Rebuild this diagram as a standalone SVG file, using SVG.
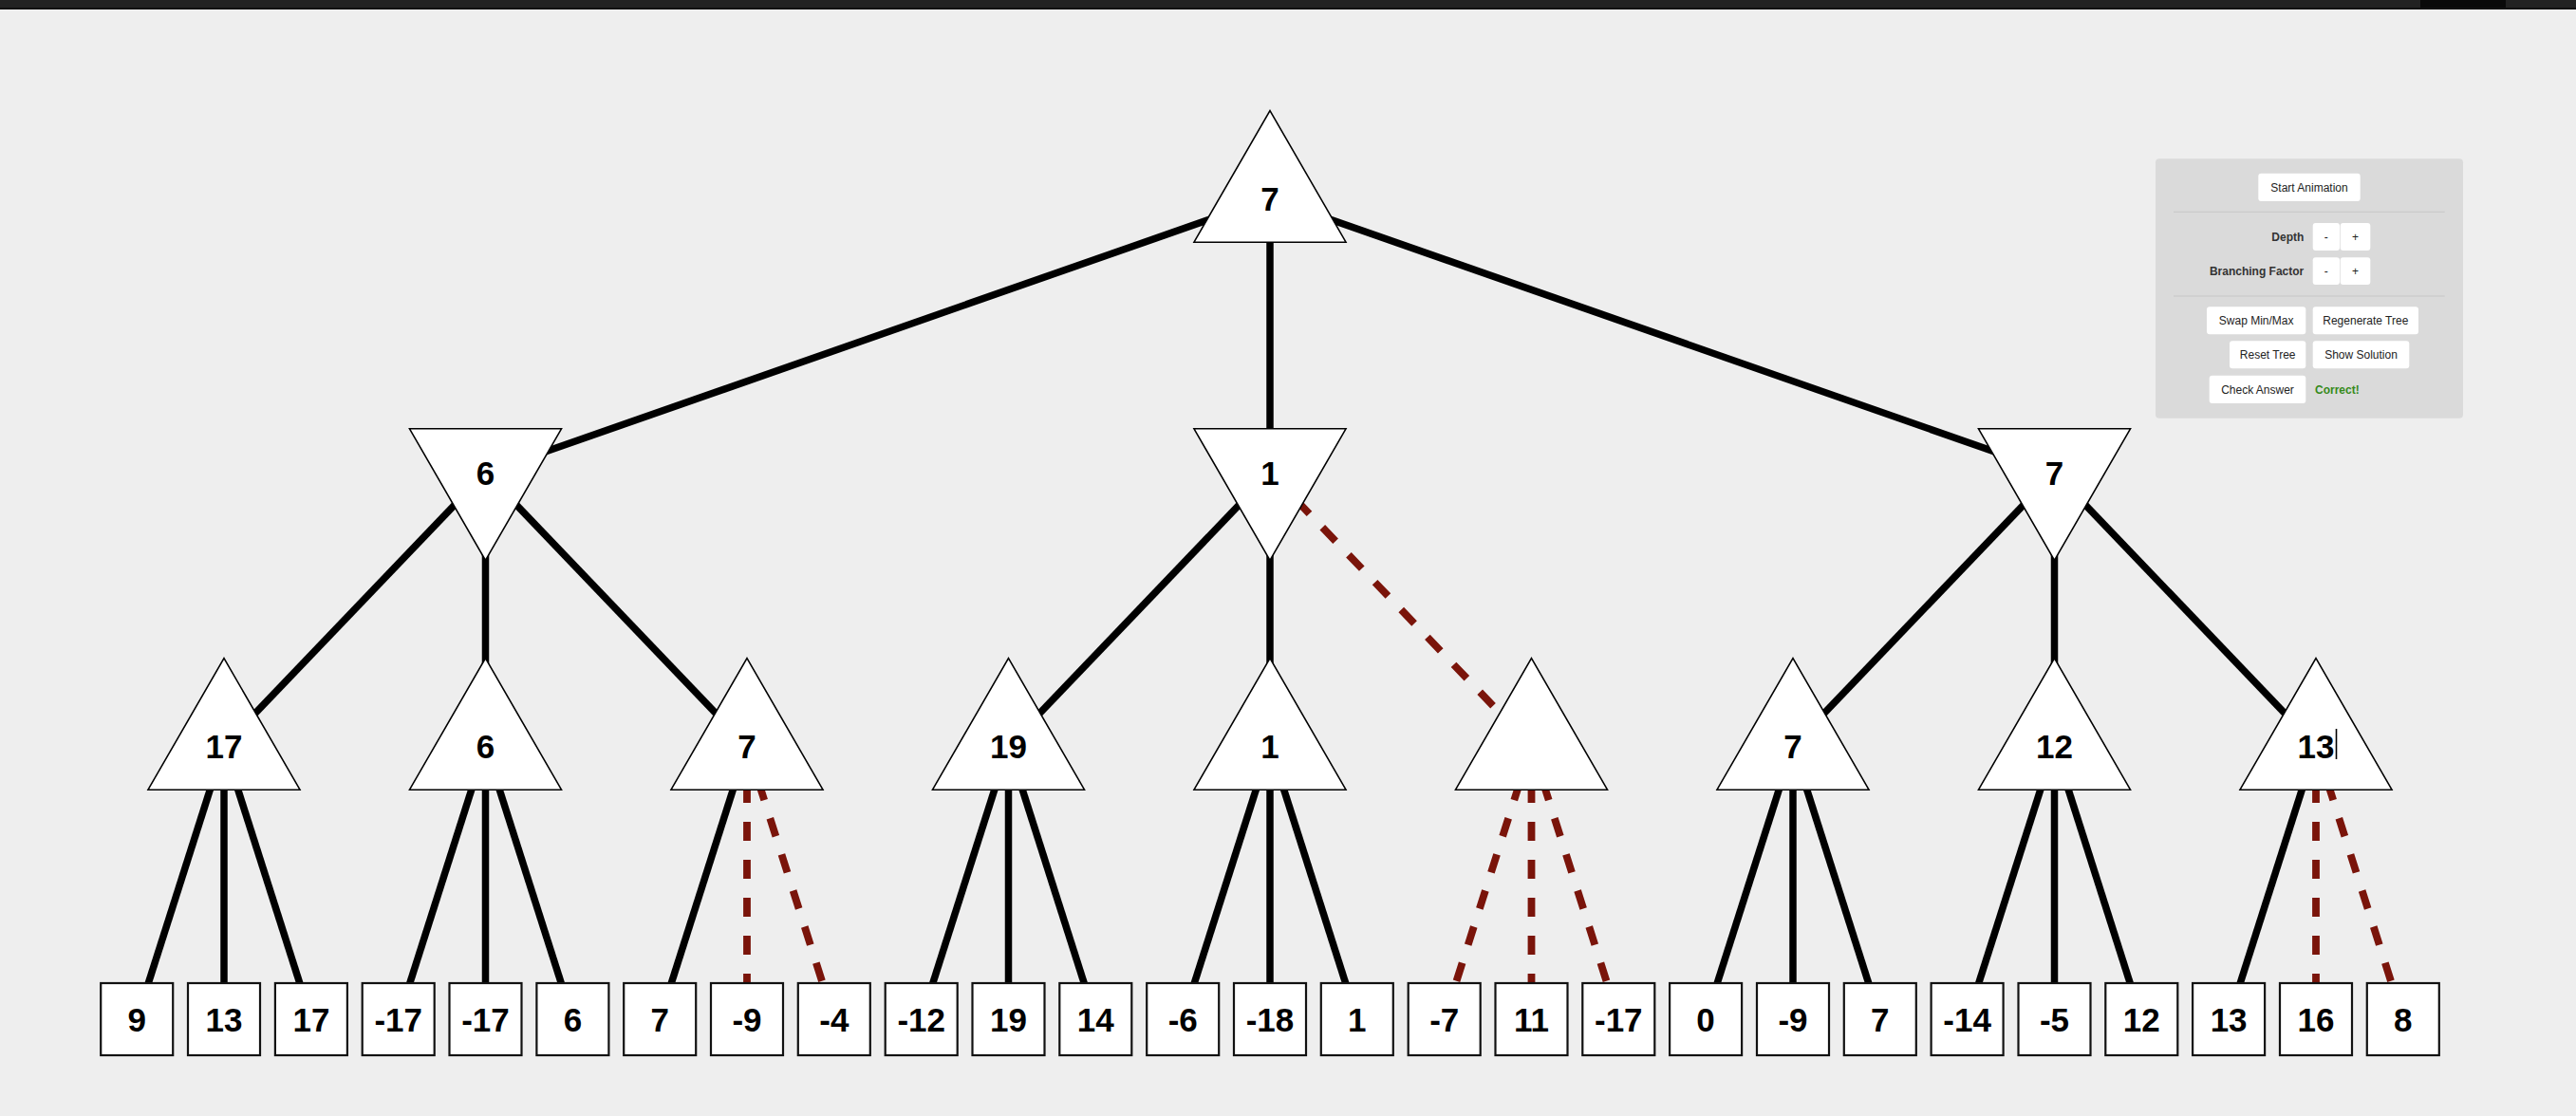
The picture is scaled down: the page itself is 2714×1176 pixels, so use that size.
<svg xmlns="http://www.w3.org/2000/svg" width="2714" height="1176" viewBox="0 0 2714 1176">
<style>
.e{stroke:#000;stroke-width:7.5;fill:none}
.d{stroke:#7a140a;stroke-width:7.8;fill:none;stroke-dasharray:20 20}
.tri{fill:#fff;stroke:#000;stroke-width:1.6}
.leaf{fill:#fff;stroke:#111;stroke-width:2.2}
.v{font-family:"Liberation Sans",Arial,Helvetica,sans-serif;font-weight:bold;font-size:35px;text-anchor:middle;fill:#000}
.btn{fill:#fff}
.bt{font-family:"Liberation Sans",Arial,Helvetica,sans-serif;font-size:12px;text-anchor:middle;fill:#222}
.lbl{font-family:"Liberation Sans",Arial,Helvetica,sans-serif;font-size:12px;font-weight:bold;text-anchor:end;fill:#333}
</style>
<defs>
<path id="up" class="tri" d="M0,-92.38 L80,46.19 L-80,46.19 Z"/>
<path id="down" class="tri" d="M0,92.38 L80,-46.19 L-80,-46.19 Z"/>
<rect id="box" class="leaf" x="-38" y="-38" width="76" height="76"/>
</defs>
<rect x="0" y="0" width="2714" height="1176" fill="#eeeeee"/>
<rect x="0" y="0" width="2714" height="8" fill="#222"/>
<rect x="0" y="8" width="2714" height="2" fill="#111"/>
<rect x="2550" y="0" width="90" height="8" fill="#0a0a0a"/>

<g id="connectors">
<line class="e" x1="1338" y1="209" x2="511.5" y2="498"/>
<line class="e" x1="1338" y1="209" x2="1338" y2="498"/>
<line class="e" x1="1338" y1="209" x2="2164.5" y2="498"/>
<line class="e" x1="511.5" y1="498" x2="236" y2="786"/>
<line class="e" x1="511.5" y1="498" x2="511.5" y2="786"/>
<line class="e" x1="511.5" y1="498" x2="787" y2="786"/>
<line class="e" x1="1338" y1="498" x2="1062.5" y2="786"/>
<line class="e" x1="1338" y1="498" x2="1338" y2="786"/>
<line class="d" x1="1338" y1="498" x2="1613.5" y2="786"/>
<line class="e" x1="2164.5" y1="498" x2="1889" y2="786"/>
<line class="e" x1="2164.5" y1="498" x2="2164.5" y2="786"/>
<line class="e" x1="2164.5" y1="498" x2="2440" y2="786"/>
<line class="e" x1="236" y1="786" x2="144.2" y2="1074"/>
<line class="e" x1="236" y1="786" x2="236" y2="1074"/>
<line class="e" x1="236" y1="786" x2="327.9" y2="1074"/>
<line class="e" x1="511.5" y1="786" x2="419.7" y2="1074"/>
<line class="e" x1="511.5" y1="786" x2="511.5" y2="1074"/>
<line class="e" x1="511.5" y1="786" x2="603.4" y2="1074"/>
<line class="e" x1="787" y1="786" x2="695.2" y2="1074"/>
<line class="d" x1="787" y1="786" x2="787" y2="1074"/>
<line class="d" x1="787" y1="786" x2="878.8" y2="1074"/>
<line class="e" x1="1062.5" y1="786" x2="970.7" y2="1074"/>
<line class="e" x1="1062.5" y1="786" x2="1062.5" y2="1074"/>
<line class="e" x1="1062.5" y1="786" x2="1154.3" y2="1074"/>
<line class="e" x1="1338" y1="786" x2="1246.2" y2="1074"/>
<line class="e" x1="1338" y1="786" x2="1338" y2="1074"/>
<line class="e" x1="1338" y1="786" x2="1429.8" y2="1074"/>
<line class="d" x1="1613.5" y1="786" x2="1521.7" y2="1074"/>
<line class="d" x1="1613.5" y1="786" x2="1613.5" y2="1074"/>
<line class="d" x1="1613.5" y1="786" x2="1705.3" y2="1074"/>
<line class="e" x1="1889" y1="786" x2="1797.1" y2="1074"/>
<line class="e" x1="1889" y1="786" x2="1889" y2="1074"/>
<line class="e" x1="1889" y1="786" x2="1980.8" y2="1074"/>
<line class="e" x1="2164.5" y1="786" x2="2072.6" y2="1074"/>
<line class="e" x1="2164.5" y1="786" x2="2164.5" y2="1074"/>
<line class="e" x1="2164.5" y1="786" x2="2256.3" y2="1074"/>
<line class="e" x1="2440" y1="786" x2="2348.1" y2="1074"/>
<line class="d" x1="2440" y1="786" x2="2440" y2="1074"/>
<line class="d" x1="2440" y1="786" x2="2531.8" y2="1074"/>
</g>

<g id="root"><use href="#up" x="1338" y="209"/><text class="v" x="1338" y="221.5">7</text></g>

<g id="n1a"><use href="#down" x="511.5" y="498"/><text class="v" x="511.5" y="510.5">6</text></g>
<g id="n1b"><use href="#down" x="1338" y="498"/><text class="v" x="1338" y="510.5">1</text></g>
<g id="n1c"><use href="#down" x="2164.5" y="498"/><text class="v" x="2164.5" y="510.5">7</text></g>

<g id="n2a"><use href="#up" x="236" y="786"/><text class="v" x="236" y="798.5">17</text></g>
<g id="n2b"><use href="#up" x="511.5" y="786"/><text class="v" x="511.5" y="798.5">6</text></g>
<g id="n2c"><use href="#up" x="787" y="786"/><text class="v" x="787" y="798.5">7</text></g>
<g id="n2d"><use href="#up" x="1062.5" y="786"/><text class="v" x="1062.5" y="798.5">19</text></g>
<g id="n2e"><use href="#up" x="1338" y="786"/><text class="v" x="1338" y="798.5">1</text></g>
<g id="n2f"><use href="#up" x="1613.5" y="786"/></g>
<g id="n2g"><use href="#up" x="1889" y="786"/><text class="v" x="1889" y="798.5">7</text></g>
<g id="n2h"><use href="#up" x="2164.5" y="786"/><text class="v" x="2164.5" y="798.5">12</text></g>
<g id="n2i"><use href="#up" x="2440" y="786"/><text class="v" x="2440" y="798.5">13</text><line x1="2461.5" y1="768" x2="2461.5" y2="800" stroke="#000" stroke-width="1.6"/></g>

<g id="leaf0"><use href="#box" x="144.2" y="1074"/><text class="v" x="144.2" y="1086.5">9</text></g>
<g id="leaf1"><use href="#box" x="236" y="1074"/><text class="v" x="236" y="1086.5">13</text></g>
<g id="leaf2"><use href="#box" x="327.9" y="1074"/><text class="v" x="327.9" y="1086.5">17</text></g>
<g id="leaf3"><use href="#box" x="419.7" y="1074"/><text class="v" x="419.7" y="1086.5">-17</text></g>
<g id="leaf4"><use href="#box" x="511.5" y="1074"/><text class="v" x="511.5" y="1086.5">-17</text></g>
<g id="leaf5"><use href="#box" x="603.4" y="1074"/><text class="v" x="603.4" y="1086.5">6</text></g>
<g id="leaf6"><use href="#box" x="695.2" y="1074"/><text class="v" x="695.2" y="1086.5">7</text></g>
<g id="leaf7"><use href="#box" x="787" y="1074"/><text class="v" x="787" y="1086.5">-9</text></g>
<g id="leaf8"><use href="#box" x="878.8" y="1074"/><text class="v" x="878.8" y="1086.5">-4</text></g>
<g id="leaf9"><use href="#box" x="970.7" y="1074"/><text class="v" x="970.7" y="1086.5">-12</text></g>
<g id="leaf10"><use href="#box" x="1062.5" y="1074"/><text class="v" x="1062.5" y="1086.5">19</text></g>
<g id="leaf11"><use href="#box" x="1154.3" y="1074"/><text class="v" x="1154.3" y="1086.5">14</text></g>
<g id="leaf12"><use href="#box" x="1246.2" y="1074"/><text class="v" x="1246.2" y="1086.5">-6</text></g>
<g id="leaf13"><use href="#box" x="1338" y="1074"/><text class="v" x="1338" y="1086.5">-18</text></g>
<g id="leaf14"><use href="#box" x="1429.8" y="1074"/><text class="v" x="1429.8" y="1086.5">1</text></g>
<g id="leaf15"><use href="#box" x="1521.7" y="1074"/><text class="v" x="1521.7" y="1086.5">-7</text></g>
<g id="leaf16"><use href="#box" x="1613.5" y="1074"/><text class="v" x="1613.5" y="1086.5">11</text></g>
<g id="leaf17"><use href="#box" x="1705.3" y="1074"/><text class="v" x="1705.3" y="1086.5">-17</text></g>
<g id="leaf18"><use href="#box" x="1797.1" y="1074"/><text class="v" x="1797.1" y="1086.5">0</text></g>
<g id="leaf19"><use href="#box" x="1889" y="1074"/><text class="v" x="1889" y="1086.5">-9</text></g>
<g id="leaf20"><use href="#box" x="1980.8" y="1074"/><text class="v" x="1980.8" y="1086.5">7</text></g>
<g id="leaf21"><use href="#box" x="2072.6" y="1074"/><text class="v" x="2072.6" y="1086.5">-14</text></g>
<g id="leaf22"><use href="#box" x="2164.5" y="1074"/><text class="v" x="2164.5" y="1086.5">-5</text></g>
<g id="leaf23"><use href="#box" x="2256.3" y="1074"/><text class="v" x="2256.3" y="1086.5">12</text></g>
<g id="leaf24"><use href="#box" x="2348.1" y="1074"/><text class="v" x="2348.1" y="1086.5">13</text></g>
<g id="leaf25"><use href="#box" x="2440" y="1074"/><text class="v" x="2440" y="1086.5">16</text></g>
<g id="leaf26"><use href="#box" x="2531.8" y="1074"/><text class="v" x="2531.8" y="1086.5">8</text></g>

<g id="panel">
<rect x="2271" y="167.3" width="324" height="273.4" rx="4" fill="#dadada"/>
<rect class="btn" x="2379.3" y="182.7" width="107.4" height="29.3" rx="3"/>
<text class="bt" x="2433" y="201.7">Start Animation</text>
<line x1="2290" y1="223.3" x2="2575.7" y2="223.3" stroke="#c6c6c6" stroke-width="1"/>
<text class="lbl" x="2427.3" y="253.8">Depth</text>
<rect class="btn" x="2436.7" y="235" width="28.3" height="29" rx="3"/>
<rect class="btn" x="2465.7" y="235" width="31.6" height="29" rx="3"/>
<text class="bt" x="2450.8" y="253.8">-</text>
<text class="bt" x="2481.5" y="253.8">+</text>
<text class="lbl" x="2427.3" y="290">Branching Factor</text>
<rect class="btn" x="2436.7" y="271.3" width="28.3" height="28.7" rx="3"/>
<rect class="btn" x="2465.7" y="271.3" width="31.6" height="28.7" rx="3"/>
<text class="bt" x="2450.8" y="290">-</text>
<text class="bt" x="2481.5" y="290">+</text>
<line x1="2290" y1="312" x2="2575.7" y2="312" stroke="#c6c6c6" stroke-width="1"/>
<rect class="btn" x="2325" y="323.3" width="104.3" height="29" rx="3"/>
<text class="bt" x="2377.2" y="342">Swap Min/Max</text>
<rect class="btn" x="2436.7" y="323.3" width="111.3" height="29" rx="3"/>
<text class="bt" x="2492.3" y="342">Regenerate Tree</text>
<rect class="btn" x="2349" y="359.3" width="80.3" height="29" rx="3"/>
<text class="bt" x="2389.2" y="378">Reset Tree</text>
<rect class="btn" x="2436.7" y="359.3" width="101.6" height="29" rx="3"/>
<text class="bt" x="2487.5" y="378">Show Solution</text>
<rect class="btn" x="2327.7" y="395.7" width="101.6" height="29.3" rx="3"/>
<text class="bt" x="2378.5" y="414.6">Check Answer</text>
<text x="2439" y="414.6" font-family="'Liberation Sans',Arial,Helvetica,sans-serif" font-size="12" font-weight="bold" fill="#368a1a">Correct!</text>
</g>
</svg>
